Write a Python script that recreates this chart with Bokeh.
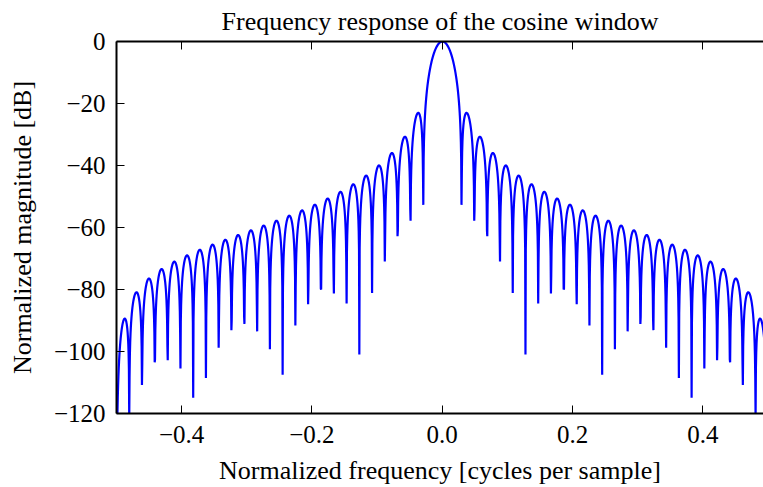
import numpy as np
from bokeh.plotting import figure
from bokeh.models import Range1d, FixedTicker, LinearAxis, ColumnDataSource
from bokeh.embed import file_html
from bokeh.resources import INLINE

# Cosine window samples (51 points, symmetric): first half incl. centre
window_half = [0.030795, 0.092268, 0.153392, 0.213933, 0.273663, 0.332355,
               0.389786, 0.445738, 0.500000, 0.552365, 0.602635, 0.650619,
               0.696134, 0.739009, 0.779081, 0.816197, 0.850217, 0.881012,
               0.908465, 0.932472, 0.952942, 0.969797, 0.982973, 0.992421,
               0.998103, 1.000000]
window = window_half + window_half[-2::-1]
nfft = 2048

x_ticks = [-0.4, -0.2, 0.0, 0.2, 0.4]
x_tick_labels = ["\u22120.4", "\u22120.2", "0.0", "0.2", "0.4"]
y_ticks = [-120, -100, -80, -60, -40, -20, 0]
y_tick_labels = ["\u2212120", "\u2212100", "\u221280", "\u221260", "\u221240", "\u221220", "0"]

title_text = "Frequency response of the cosine window"
x_label = "Normalized frequency [cycles per sample]"
y_label = "Normalized magnitude [dB]"

w = np.array(window)
A = np.fft.fft(w, nfft) / (len(w) / 2.0)
mag = np.abs(np.fft.fftshift(A / np.abs(A).max()))
response = 20 * np.log10(np.maximum(mag, 1e-12))
freq = np.linspace(-0.5, 0.5, len(A))
src = ColumnDataSource(dict(f=freq, r=response))

FONT = "Liberation Serif"
FS_TICK = "25px"
FS_LAB = "26px"

p = figure(width=763, height=487, output_backend="svg", toolbar_location=None,
           x_range=Range1d(-0.5, 0.4931), y_range=Range1d(-120, 0),
           x_axis_location=None, y_axis_location=None,
           min_border_left=116, min_border_right=0, min_border_top=41, min_border_bottom=74)
p.outline_line_color = None
p.xgrid.visible = False
p.ygrid.visible = False
p.background_fill_color = "white"
p.border_fill_color = "white"

p.title.text = title_text
p.title.text_font = FONT
p.title.text_font_size = FS_LAB
p.title.text_font_style = "normal"
p.title.align = "center"
p.title.text_color = "black"
p.title.standoff = 8
p.title.vertical_align = "top"

p.line("f", "r", source=src, line_color="#0000ff", line_width=2.2)

def style(ax, overrides):
    ax.axis_line_width = 2
    ax.axis_line_color = "black"
    ax.major_tick_in = 8
    ax.major_tick_out = 0
    ax.major_tick_line_width = 1
    ax.minor_tick_line_color = None
    ax.major_label_text_font = FONT
    ax.major_label_text_font_size = FS_TICK
    ax.major_label_text_color = "black"
    ax.axis_label_text_font = FONT
    ax.axis_label_text_font_size = FS_LAB
    ax.axis_label_text_font_style = "normal"
    ax.axis_label_text_color = "black"
    ax.major_label_overrides = overrides

xo = {v: s for v, s in zip(x_ticks, x_tick_labels)}
yo = {v: s for v, s in zip(y_ticks, y_tick_labels)}

bx = LinearAxis(ticker=FixedTicker(ticks=x_ticks), axis_label=x_label)
style(bx, xo)
bx.major_label_standoff = 12
bx.axis_label_standoff = 10
p.add_layout(bx, "below")

ly = LinearAxis(ticker=FixedTicker(ticks=y_ticks), axis_label=y_label)
style(ly, yo)
ly.major_label_standoff = 11
ly.axis_label_standoff = 14
p.add_layout(ly, "left")

tx = LinearAxis(ticker=FixedTicker(ticks=x_ticks))
style(tx, {v: "" for v in x_ticks})
tx.major_label_text_font_size = "0px"
tx.major_label_text_color = None
tx.major_label_standoff = 0
p.add_layout(tx, "above")

open("out.html", "w").write(file_html(p, INLINE))
